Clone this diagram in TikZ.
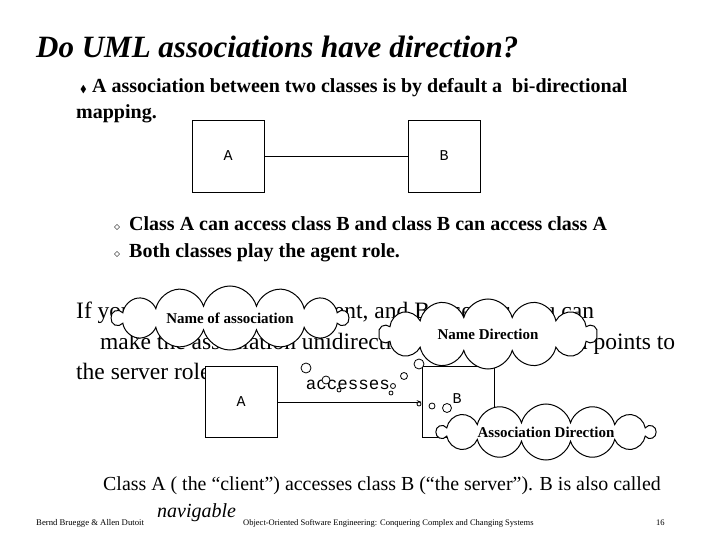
\documentclass[tikz,border=0pt]{standalone}
\usepackage{amssymb}
\usepackage{fontspec}
\setmainfont{Liberation Serif}
\newfontfamily\monof{Liberation Mono}
\usetikzlibrary{shapes.symbols,arrows.meta}
\begin{document}
\begin{tikzpicture}[x=1pt,y=-1pt,
  box/.style={draw,line width=0.8pt},
  cl/.style={cloud,cloud ignores aspect,draw,fill=white,line width=1pt,cloud puffs=14,inner sep=0pt,font=\bfseries\fontsize{15}{17}\selectfont},
  bub/.style={circle,draw,fill=white,line width=0.8pt,inner sep=0pt},
  tx/.style={anchor=base west,inner sep=0pt}]
\useasboundingbox (0,0) rectangle (720,540);
\node[tx,font=\bfseries\itshape\fontsize{31}{34}\selectfont] (t) at (36,58) {Do UML associations have direction?};
\node[tx,font=\fontsize{10}{12}\selectfont] (b0) at (80,93) {$\blacklozenge$};
\node[tx,font=\bfseries\fontsize{20}{23}\selectfont] (l1) at (92,93) {A association between two classes is by default a\ \ bi-directional};
\node[tx,font=\bfseries\fontsize{20}{23}\selectfont] (l2) at (76,119) {mapping.};
% top diagram
\node[box,minimum width=72,minimum height=72,font=\monof\fontsize{15}{17}\selectfont] (A1) at (228,156) {A};
\node[box,minimum width=72,minimum height=72,font=\monof\fontsize{15}{17}\selectfont] (B1) at (444,156) {B};
\draw[line width=0.8pt] (A1) -- (B1);
% sub bullets
\node[tx,font=\fontsize{13}{15}\selectfont] (s1) at (114,230) {$\diamond$};
\node[tx,font=\bfseries\fontsize{20}{23}\selectfont] (s1t) at (129,230) {Class A can access class B and class B can access class A};
\node[tx,font=\fontsize{13}{15}\selectfont] (s2) at (114,257) {$\diamond$};
\node[tx,font=\bfseries\fontsize{20}{23}\selectfont] (s2t) at (129,257) {Both classes play the agent role.};
% big text
\node[tx,font=\fontsize{23.5}{27}\selectfont] (p1) at (76,318) {If you want to make A a client, and B a server, you can};
\node[tx,font=\fontsize{23.5}{27}\selectfont] (p2) at (100,349) {make the association unidirectional. The arrowhead points to};
\node[tx,font=\fontsize{23.5}{27}\selectfont] (p3) at (76,379) {the server role.};
% bottom diagram
\node[box,fill=white,minimum width=72,minimum height=71,font=\monof\fontsize{15}{17}\selectfont] (A2) at (241,402) {A};
\node[box,fill=white,minimum width=72,minimum height=71] (B2) at (458,402) {};
\node[font=\monof\fontsize{15}{17}\selectfont,inner sep=0pt] (Bl) at (457,399) {B};
\draw[line width=1pt,-{Stealth[length=5pt]}] (A2.east) -- (B2.west);
\node[font=\monof\fontsize{17.5}{19}\selectfont,inner sep=0pt] (acc) at (348,385) {accesses};
% clouds
\node[cl,minimum width=236,minimum height=64] (c1) at (230,318) {Name of association};
\node[cl,minimum width=218,minimum height=70] (c2) at (488,334) {Name Direction};
\node[cl,minimum width=218,minimum height=56] (c3) at (546,432) {Association Direction};
% thought bubbles
\node[bub,minimum size=10] (d1) at (306,368) {};
\node[bub,minimum size=8] (d2) at (326,380) {};
\node[bub,minimum size=4] (d3) at (339,390) {};
\node[bub,minimum size=10] (e1) at (419,364) {};
\node[bub,minimum size=7] (e2) at (404,376) {};
\node[bub,minimum size=5] (e3) at (393,386) {};
\node[bub,minimum size=4] (e4) at (391,393) {};
\node[bub,minimum size=9] (f1) at (447,408) {};
\node[bub,minimum size=6] (f2) at (432,406) {};
\node[bub,minimum size=4] (f3) at (419,404) {};
% bottom text
\node[tx,font=\fontsize{19.9}{23}\selectfont] (q1) at (103,490) {Class A ( the “client”) accesses class B (“the server”). B is also called};
\node[tx,font=\itshape\fontsize{20}{23}\selectfont] (q2) at (157,517) {navigable};
\node[tx,font=\fontsize{8.7}{10}\selectfont] (f1t) at (36,525) {Bernd Bruegge \& Allen Dutoit};
\node[tx,font=\fontsize{8.5}{10}\selectfont] (f2t) at (243,525) {Object-Oriented Software Engineering: Conquering Complex and Changing Systems};
\node[tx,font=\fontsize{8.5}{10}\selectfont] (f3t) at (656,525) {16};
\end{tikzpicture}
\end{document}
